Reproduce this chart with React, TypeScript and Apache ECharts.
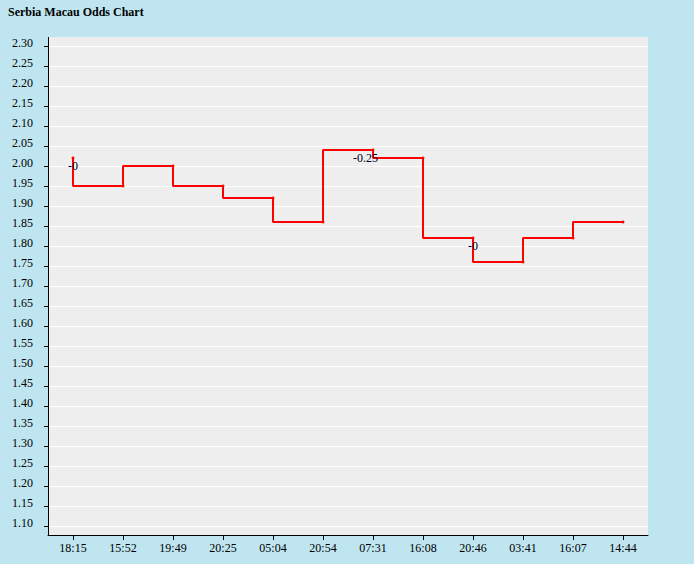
import React, { useEffect, useRef } from "react";
import * as echarts from "echarts";

const times = ["18:15", "15:52", "19:49", "20:25", "05:04", "20:54", "07:31", "16:08", "20:46", "03:41", "16:07", "14:44"];
const odds = [2.02, 1.95, 2.0, 1.95, 1.92, 1.86, 2.04, 2.02, 1.82, 1.76, 1.82, 1.86];
const handicaps = ["-0", "", "", "", "", "", "-0.25", "", "-0", "", "", ""];
const yMin = 1.1;
const yMax = 2.3;
const yStep = 0.05;

const FONT = '"Liberation Serif", "Times New Roman", serif';

export default function App() {
  const ref = useRef<HTMLDivElement>(null);
  useEffect(() => {
    if (!ref.current) return;
    const chart = echarts.init(ref.current, undefined, { renderer: "svg" });
    chart.setOption({
      animation: false,
      backgroundColor: "#bfe6f0",
      textStyle: { fontFamily: FONT },
      title: {
        text: "Serbia Macau Odds Chart",
        left: 8,
        top: 6,
        padding: 0,
        textStyle: { fontFamily: FONT, fontSize: 12, fontWeight: "bold", color: "#000" },
      },
      graphic: [
        {
          type: "rect",
          z: -100,
          silent: true,
          shape: { x: 48, y: 37, width: 600, height: 498 },
          style: { fill: "#eeeeee", lineWidth: 0 },
        },
        {
          type: "line",
          z: 100,
          silent: true,
          shape: { x1: 48.5, y1: 37, x2: 48.5, y2: 535 },
          style: { stroke: "#000", lineWidth: 1 },
        },
      ],
      grid: { left: 48, right: 46, top: 46, bottom: 38, containLabel: false },
      xAxis: {
        type: "category",
        data: times,
        boundaryGap: true,
        offset: 9,
        axisLine: { show: true, lineStyle: { color: "#000", width: 1 } },
        axisTick: { show: true, alignWithLabel: true, length: 5, lineStyle: { color: "#000" } },
        axisLabel: { color: "#000", fontSize: 12, fontFamily: FONT, margin: 7 },
        splitLine: { show: false },
      },
      yAxis: {
        type: "value",
        min: yMin,
        max: yMax,
        interval: yStep,
        axisLine: { show: false },
        axisTick: { show: true, length: 4, lineStyle: { color: "#000" } },
        axisLabel: {
          color: "#000",
          fontSize: 12,
          fontFamily: FONT,
          margin: 15,
          verticalAlign: "bottom",
          lineHeight: 6,
          formatter: (v: number) => v.toFixed(2),
        },
        splitLine: { show: true, lineStyle: { color: "#ffffff", width: 1 } },
      },
      series: [
        {
          type: "line",
          step: "start",
          data: odds.map((v, i) => ({
            value: v,
            label: {
              show: handicaps[i] !== "",
              formatter: handicaps[i],
            },
          })),
          lineStyle: { color: "#ff0000", width: 2 },
          itemStyle: { color: "#ff0000" },
          symbol: "circle",
          symbolSize: 3,
          showSymbol: true,
          label: {
            position: "inside",
            align: "right",
            offset: [5, 8],
            color: "#000022",
            fontSize: 12,
            fontFamily: FONT,
          },
        },
      ],
    });
    return () => chart.dispose();
  }, []);
  return <div ref={ref} style={{ width: 694, height: 564, position: "absolute", left: 0, top: 0 }} />;
}
